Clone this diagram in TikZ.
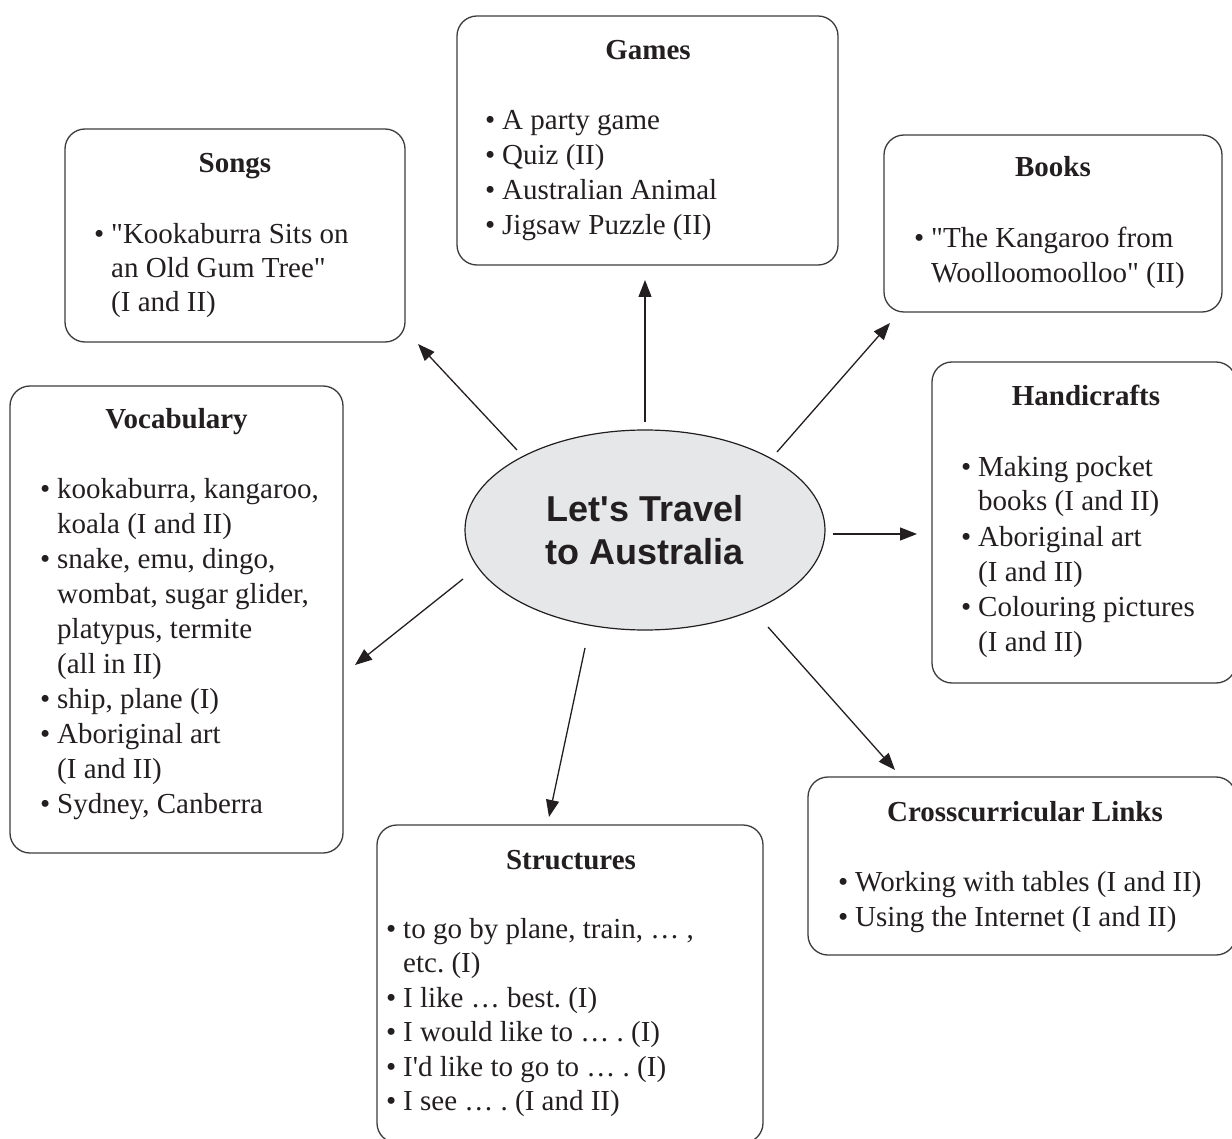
\documentclass[tikz,border=0pt]{standalone}
\usepackage{fontspec}
\setmainfont{Liberation Serif}[Ligatures=TeXOff]
\newfontfamily\hfont{Liberation Sans}[Ligatures=TeXOff]
\usetikzlibrary{arrows.meta,shapes.geometric}
\definecolor{ink}{HTML}{231F20}
\definecolor{edge}{HTML}{3C3C3C}
\definecolor{bubble}{HTML}{E6E7E8}
\newcommand\bu{\makebox[17pt][l]{\textbullet}}
\frenchspacing
\begin{document}
\begin{tikzpicture}[x=1pt,y=-1pt,
  card/.style={draw=edge, line width=1.3pt, rounded corners=20pt, inner sep=0pt},
  ttl/.style={font=\fontsize{29}{35}\selectfont\bfseries, text=ink, inner sep=0pt, anchor=base},
  itm/.style={font=\fontsize{29}{35}\selectfont, text=ink, inner sep=0pt, anchor=base west},
  arr/.style={draw=ink, line width=1.3pt, -{Triangle[length=17pt,width=13pt]}},
  hub/.style={ellipse, draw=ink, line width=1.2pt, fill=bubble, inner sep=0pt,
    minimum width=360pt, minimum height=200pt, align=center, text=ink,
    font=\hfont\bfseries\fontsize{36}{43}\selectfont}
]
\useasboundingbox (0,0) rectangle (1232,1139);
\clip (0,0) rectangle (1232,1139);

% centre
\node[hub] (hub) at (645,530) {Let's Travel\\to Australia};

% Games
\node[card, minimum width=381pt, minimum height=249pt] (games) at (647.5,140.5) {};
\node[ttl] (gt) at (648,60) {Games};
\node[itm] (g1) at (485,130) {\bu A party game};
\node[itm] (g2) at (485,165) {\bu Quiz (II)};
\node[itm] (g3) at (485,200) {\bu Australian Animal};
\node[itm] (g4) at (485,235) {\bu Jigsaw Puzzle (II)};

% Songs
\node[card, minimum width=340pt, minimum height=213pt] (songs) at (235,235.5) {};
\node[ttl] (st) at (235,173) {Songs};
\node[itm] (s1) at (94,244) {\bu "Kookaburra Sits on};
\node[itm] (s2) at (111,278) {an Old Gum Tree"};
\node[itm] (s3) at (111,312) {(I and II)};

% Books
\node[card, minimum width=338pt, minimum height=177pt] (books) at (1053,223.5) {};
\node[ttl] (bt) at (1053,177) {Books};
\node[itm] (b1) at (914,248) {\bu "The Kangaroo from};
\node[itm] (b2) at (931,283) {Woolloomoolloo" (II)};

% Vocabulary
\node[card, minimum width=333pt, minimum height=467pt] (vocab) at (176.5,619.5) {};
\node[ttl] (vt) at (176.5,429) {Vocabulary};
\node[itm] (v1) at (40,498) {\bu kookaburra, kangaroo,};
\node[itm] (v2) at (57,533) {koala (I and II)};
\node[itm] (v3) at (40,568) {\bu snake, emu, dingo,};
\node[itm] (v4) at (57,603) {wombat, sugar glider,};
\node[itm] (v5) at (57,638) {platypus, termite};
\node[itm] (v6) at (57,673) {(all in II)};
\node[itm] (v7) at (40,708) {\bu ship, plane (I)};
\node[itm] (v8) at (40,743) {\bu Aboriginal art};
\node[itm] (v9) at (57,778) {(I and II)};
\node[itm] (v10) at (40,813) {\bu Sydney, Canberra};

% Handicrafts
\node[card, minimum width=304pt, minimum height=321pt] (hand) at (1084,522.5) {};
\node[ttl] (ht) at (1086,406) {Handicrafts};
\node[itm] (h1) at (961,476) {\bu Making pocket};
\node[itm] (h2) at (978,511) {books (I and II)};
\node[itm] (h3) at (961,546) {\bu Aboriginal art};
\node[itm] (h4) at (978,581) {(I and II)};
\node[itm] (h5) at (961,616) {\bu Colouring pictures};
\node[itm] (h6) at (978,651) {(I and II)};

% Crosscurricular Links
\node[card, minimum width=428pt, minimum height=178pt] (cross) at (1022,866) {};
\node[ttl] (ct) at (1025,821) {Crosscurricular Links};
\node[itm] (c1) at (838,891) {\bu Working with tables (I and II)};
\node[itm] (c2) at (838,926) {\bu Using the Internet (I and II)};

% Structures
\node[card, minimum width=386pt, minimum height=318pt] (struct) at (570,984) {};
\node[ttl] (tt) at (571,869) {Structures};
\node[itm] (t1) at (386,938) {\bu to go by plane, train, … ,};
\node[itm] (t2) at (403,972.5) {etc. (I)};
\node[itm] (t3) at (386,1007) {\bu I like … best. (I)};
\node[itm] (t4) at (386,1041.5) {\bu I would like to … . (I)};
\node[itm] (t5) at (386,1076) {\bu I'd like to go to … . (I)};
\node[itm] (t6) at (386,1110.5) {\bu I see … . (I and II)};

% connector ends
\coordinate (aG0) at (645,422);  \coordinate (aG1) at (645,280);
\coordinate (aS0) at (517,450);  \coordinate (aS1) at (418,344);
\coordinate (aB0) at (777,452);  \coordinate (aB1) at (890,323);
\coordinate (aH0) at (833,534);  \coordinate (aH1) at (917,534);
\coordinate (aV0) at (463,579);  \coordinate (aV1) at (355,665);
\coordinate (aT0) at (585,648);  \coordinate (aT1) at (549,817);
\coordinate (aC0) at (768,627);  \coordinate (aC1) at (895,770);

\draw[arr] (aG0) -- (aG1);
\draw[arr] (aS0) -- (aS1);
\draw[arr] (aB0) -- (aB1);
\draw[arr] (aH0) -- (aH1);
\draw[arr] (aV0) -- (aV1);
\draw[arr] (aT0) -- (aT1);
\draw[arr] (aC0) -- (aC1);
\end{tikzpicture}
\end{document}
